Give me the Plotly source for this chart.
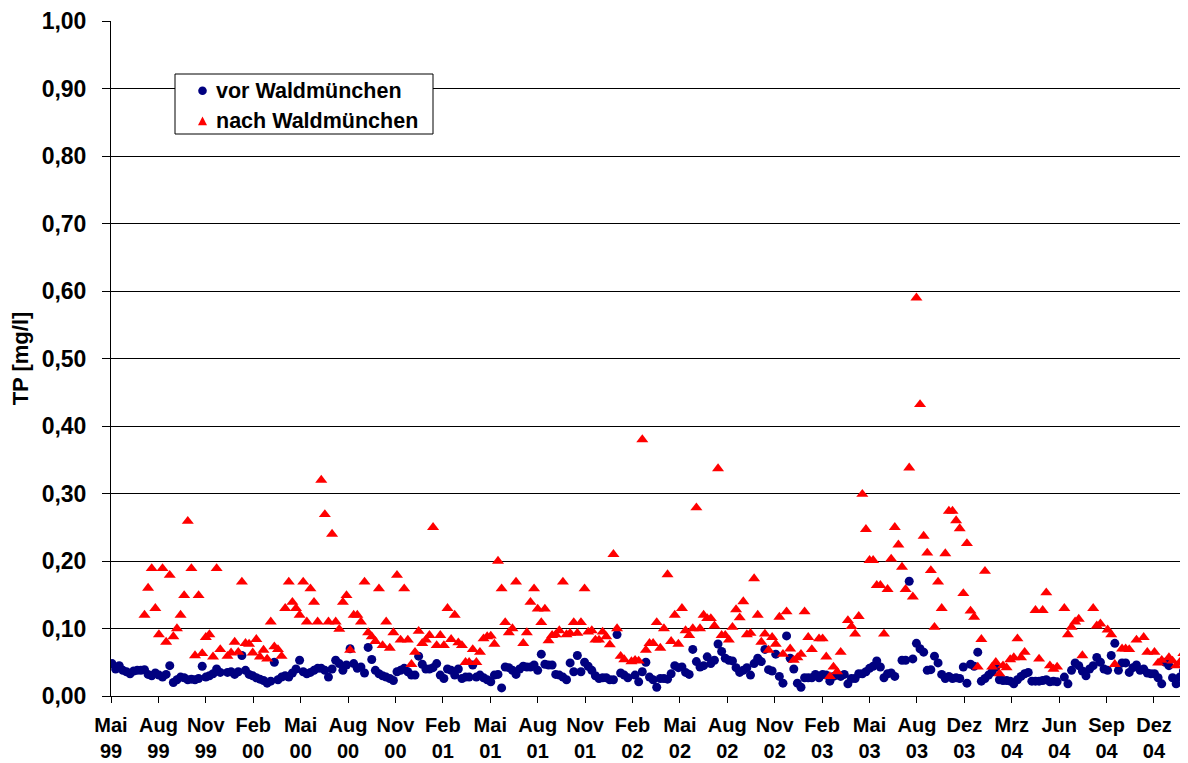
import pandas as pd
import plotly.graph_objects as go

# weekly sampling: first sample date and number of samples
first_sample = "1999-05-22"
n_samples = 299

# TP [mg/l] upstream (vor Waldmünchen)
vor_tp = [
    0.048, 0.040, 0.045, 0.038, 0.036, 0.033, 0.037, 0.038, 0.038, 0.039,
    0.032, 0.030, 0.034, 0.031, 0.028, 0.032, 0.045, 0.020, 0.024, 0.028,
    0.027, 0.024, 0.025, 0.024, 0.026, 0.044, 0.028, 0.030, 0.033, 0.040,
    0.035, None, 0.035, 0.036, 0.032, 0.036, 0.060, 0.038, 0.032, 0.030,
    0.027, 0.025, 0.023, 0.019, 0.022, 0.050, 0.024, 0.028, 0.030, 0.028,
    0.034, 0.040, 0.053, 0.036, 0.033, 0.035, 0.038, 0.041, 0.041, 0.038,
    0.028, 0.040, 0.053, 0.048, 0.038, 0.046, 0.070, 0.048, 0.041, 0.043,
    0.034, 0.072, 0.054, 0.038, 0.033, 0.030, 0.028, 0.026, 0.023, 0.036,
    0.038, 0.041, 0.036, 0.031, 0.031, 0.059, 0.047, 0.040, 0.040, 0.042,
    0.048, 0.031, 0.026, 0.040, 0.038, 0.031, 0.040, 0.026, 0.028, 0.028,
    0.046, 0.028, 0.031, 0.027, 0.024, 0.021, 0.031, 0.032, 0.012, 0.043,
    0.042, 0.038, 0.032, 0.040, 0.044, 0.043, 0.043, 0.046, 0.038, 0.062,
    0.047, 0.046, 0.046, 0.032, 0.031, 0.028, 0.024, 0.049, 0.036, 0.060,
    0.036, 0.050, 0.044, 0.038, 0.030, 0.026, 0.027, 0.027, 0.024, 0.024,
    0.091, 0.034, 0.031, 0.027, None, 0.031, 0.021, 0.036, 0.050, 0.028,
    0.024, 0.013, 0.026, 0.026, 0.025, 0.033, 0.045, 0.042, 0.043, 0.035,
    0.032, 0.069, 0.051, 0.043, 0.045, 0.058, 0.048, 0.053, 0.077, 0.066,
    0.056, 0.053, 0.052, 0.042, 0.035, 0.038, 0.042, 0.031, 0.048, 0.056,
    0.051, 0.069, 0.039, 0.037, 0.062, 0.029, 0.019, 0.089, 0.056, 0.040,
    0.019, 0.013, 0.027, 0.027, 0.027, 0.032, 0.027, 0.032, 0.031, 0.022,
    0.029, 0.031, 0.029, 0.032, 0.018, 0.026, 0.026, 0.033, 0.033, 0.036,
    0.041, 0.044, 0.052, 0.043, 0.027, 0.033, 0.034, 0.029, None, 0.053,
    0.053, 0.170, 0.055, 0.078, 0.070, 0.065, 0.038, 0.039, 0.059, 0.049,
    0.032, 0.026, 0.029, 0.026, 0.027, 0.026, 0.043, 0.019, 0.047, 0.044,
    0.065, 0.022, 0.026, 0.031, 0.036, 0.043, 0.024, 0.023, 0.023, 0.022,
    0.018, 0.024, 0.029, 0.033, 0.035, 0.022, 0.022, 0.022, 0.023, 0.024,
    0.021, 0.022, 0.021, None, 0.028, 0.018, 0.038, 0.049, 0.045, 0.037,
    0.030, 0.040, 0.045, 0.057, 0.050, 0.040, 0.038, 0.060, 0.078, 0.038,
    0.049, 0.049, 0.035, 0.042, 0.046, 0.038, 0.040, 0.034, 0.033, 0.033,
    0.027, 0.018, 0.050, 0.045, 0.027, 0.018, 0.028, 0.037, 0.028,
]

# TP [mg/l] downstream (nach Waldmünchen)
nach_tp = [
    None, None, None, None, None, None, None, None, None, 0.120,
    0.160, 0.189, 0.130, 0.091, 0.189, 0.080, 0.179, 0.088, 0.100, 0.120,
    0.149, 0.259, 0.189, 0.060, 0.149, 0.063, 0.087, 0.091, 0.058, 0.189,
    0.069, None, 0.059, 0.064, 0.080, 0.065, 0.169, 0.078, 0.077, 0.064,
    0.084, 0.058, 0.068, 0.055, 0.110, 0.073, 0.069, 0.059, 0.130, 0.169,
    0.139, 0.130, 0.120, 0.169, 0.110, 0.159, 0.139, 0.110, 0.320, 0.269,
    0.110, 0.240, 0.110, 0.099, 0.139, 0.149, 0.068, 0.120, 0.120, 0.110,
    0.169, 0.094, 0.088, 0.081, 0.159, 0.075, 0.110, 0.071, 0.094, 0.179,
    0.083, 0.159, 0.083, 0.047, 0.065, 0.096, 0.078, 0.083, 0.090, 0.250,
    0.075, 0.090, 0.075, 0.130, 0.084, 0.120, 0.079, 0.075, 0.050, 0.050,
    0.069, 0.050, 0.065, 0.085, 0.088, 0.089, 0.077, 0.200, 0.159, 0.109,
    0.094, 0.100, 0.169, None, 0.078, 0.094, 0.139, 0.159, 0.129, 0.109,
    0.129, 0.082, 0.090, 0.091, 0.097, 0.169, 0.091, 0.093, 0.109, 0.093,
    0.109, 0.159, 0.095, 0.097, 0.083, 0.083, 0.095, 0.088, 0.076, 0.210,
    0.100, 0.059, 0.054, None, 0.051, 0.053, 0.052, 0.380, 0.068, 0.078,
    0.078, 0.109, 0.071, 0.100, 0.180, 0.081, 0.120, 0.077, 0.130, 0.097,
    0.090, 0.100, 0.279, 0.100, 0.120, 0.115, 0.115, 0.104, 0.337, 0.090,
    0.090, 0.083, 0.102, 0.128, 0.116, 0.140, 0.091, 0.093, 0.174, 0.120,
    0.080, 0.092, 0.068, 0.087, 0.077, 0.117, 0.062, 0.125, 0.070, 0.053,
    0.057, 0.062, 0.125, 0.087, 0.069, None, 0.085, 0.085, 0.058, 0.029,
    0.043, 0.036, 0.065, None, 0.112, 0.103, 0.092, 0.118, 0.299, 0.247,
    0.201, 0.201, 0.164, 0.164, 0.092, 0.158, 0.203, 0.250, 0.224, 0.191,
    0.158, 0.338, 0.147, 0.590, 0.432, 0.237, 0.212, 0.186, 0.102, 0.169,
    0.130, 0.211, 0.274, 0.274, 0.260, 0.248, 0.152, 0.226, 0.126, 0.117,
    0.043, 0.084, 0.185, None, 0.043, 0.050, 0.033, 0.045, 0.042, 0.054,
    0.057, 0.085, 0.057, 0.065, None, None, 0.127, 0.055, 0.127, 0.153,
    0.045, 0.040, 0.043, None, 0.130, 0.091, 0.102, 0.110, 0.114, 0.060,
    None, None, 0.130, 0.104, 0.107, None, 0.098, 0.091, 0.047, None,
    0.070, 0.070, 0.069, None, 0.083, None, 0.087, 0.065, None, 0.065,
    0.049, 0.053, None, 0.057, 0.052, 0.045, 0.050, 0.063, None,
]

tick_dates = [
    "1999-05-20", "1999-08-20", "1999-11-20", "2000-02-20", "2000-05-22",
    "2000-08-22", "2000-11-22", "2001-02-22", "2001-05-25", "2001-08-25",
    "2001-11-25", "2002-02-25", "2002-05-28", "2002-08-28", "2002-11-28",
    "2003-02-28", "2003-05-31", "2003-08-31", "2003-12-01", "2004-03-02",
    "2004-06-02", "2004-09-02", "2004-12-03",
]
tick_labels = [
    "Mai<br>99", "Aug<br>99", "Nov<br>99", "Feb<br>00", "Mai<br>00",
    "Aug<br>00", "Nov<br>00", "Feb<br>01", "Mai<br>01", "Aug<br>01",
    "Nov<br>01", "Feb<br>02", "Mai<br>02", "Aug<br>02", "Nov<br>02",
    "Feb<br>03", "Mai<br>03", "Aug<br>03", "Dez<br>03", "Mrz<br>04",
    "Jun<br>04", "Sep<br>04", "Dez<br>04",
]
series_names = ["vor Waldmünchen", "nach Waldmünchen"]
x_range = ["1999-05-20", "2005-02-07"]
y_ticks = [0.0, 0.1, 0.2, 0.3, 0.4, 0.5, 0.6, 0.7, 0.8, 0.9, 1.0]

dates = pd.date_range(first_sample, periods=n_samples, freq="7D")

FONT = "Arial, 'Liberation Sans', sans-serif"
BLUE = "#000080"
RED = "#FF0000"

fig = go.Figure()
fig.add_trace(go.Scatter(
    x=dates, y=vor_tp, mode="markers", name=series_names[0],
    marker=dict(symbol="circle", size=9, color=BLUE, line=dict(width=0)),
))
fig.add_trace(go.Scatter(
    x=dates, y=nach_tp, mode="markers", name=series_names[1],
    marker=dict(symbol="triangle-up", size=10.5, color=RED, line=dict(width=0)),
))

# ---- legend box drawn as layout shapes/annotations (plot-area fractions) ----
# plot area spans page pixels x 111..1188, y 21..696
PX0, PX1, PY0, PY1 = 111.0, 1188.0, 21.0, 696.0
def fx(px):
    return (px - PX0) / (PX1 - PX0)
def fy(py):
    return (PY1 - py) / (PY1 - PY0)

shapes = [
    dict(type="rect", xref="paper", yref="paper", layer="above",
         x0=fx(175), x1=fx(433), y0=fy(134), y1=fy(74),
         line=dict(color="black", width=1), fillcolor="white"),
    dict(type="circle", xref="paper", yref="paper", layer="above",
         x0=fx(198.2), x1=fx(206.8), y0=fy(95.1), y1=fy(86.5),
         line=dict(width=0), fillcolor=BLUE),
    dict(type="path", xref="paper", yref="paper", layer="above",
         path=(f"M {fx(198.0)} {fy(125.2)} L {fx(207.0)} {fy(125.2)} "
               f"L {fx(202.5)} {fy(116.5)} Z"),
         line=dict(width=0), fillcolor=RED),
]
annotations = [
    dict(xref="paper", yref="paper", x=fx(214), y=fy(91), text=series_names[0],
         showarrow=False, xanchor="left", yanchor="middle",
         font=dict(family=FONT, size=21.5, color="black", weight="bold")),
    dict(xref="paper", yref="paper", x=fx(214), y=fy(121), text=series_names[1],
         showarrow=False, xanchor="left", yanchor="middle",
         font=dict(family=FONT, size=21.5, color="black", weight="bold")),
]

# page body has an 8px default margin, so the figure is offset by 8px
fig.update_layout(
    width=1180, height=755,
    margin=dict(l=103, r=0, t=13, b=67, autoexpand=False),
    plot_bgcolor="white", paper_bgcolor="white",
    separators=",.",
    font=dict(family=FONT, color="black"),
    showlegend=False,
    shapes=shapes,
    annotations=annotations,
)
fig.update_xaxes(
    type="date", range=x_range, automargin=False,
    tickmode="array", tickvals=tick_dates, ticktext=tick_labels,
    tickangle=0,
    ticks="outside", ticklen=6, tickcolor="black", tickwidth=1,
    showgrid=False, showline=True, linecolor="black", linewidth=1,
    zeroline=False, ticklabelstandoff=5,
    tickfont=dict(family=FONT, size=20, color="black", weight="bold"),
)
fig.update_yaxes(
    range=[0, 1.0], automargin=False,
    tickmode="array", tickvals=y_ticks, tickformat=".2f",
    ticks="outside", ticklen=8, tickcolor="black", tickwidth=1,
    showgrid=True, gridcolor="black", gridwidth=1,
    showline=True, linecolor="black", linewidth=1, zeroline=False,
    tickfont=dict(family=FONT, size=23, color="black", weight="bold"),
    ticklabelstandoff=11,
    title=dict(text="TP [mg/l]", standoff=10,
               font=dict(family=FONT, size=22, color="black", weight="bold")),
)

fig.write_html("out.html")
